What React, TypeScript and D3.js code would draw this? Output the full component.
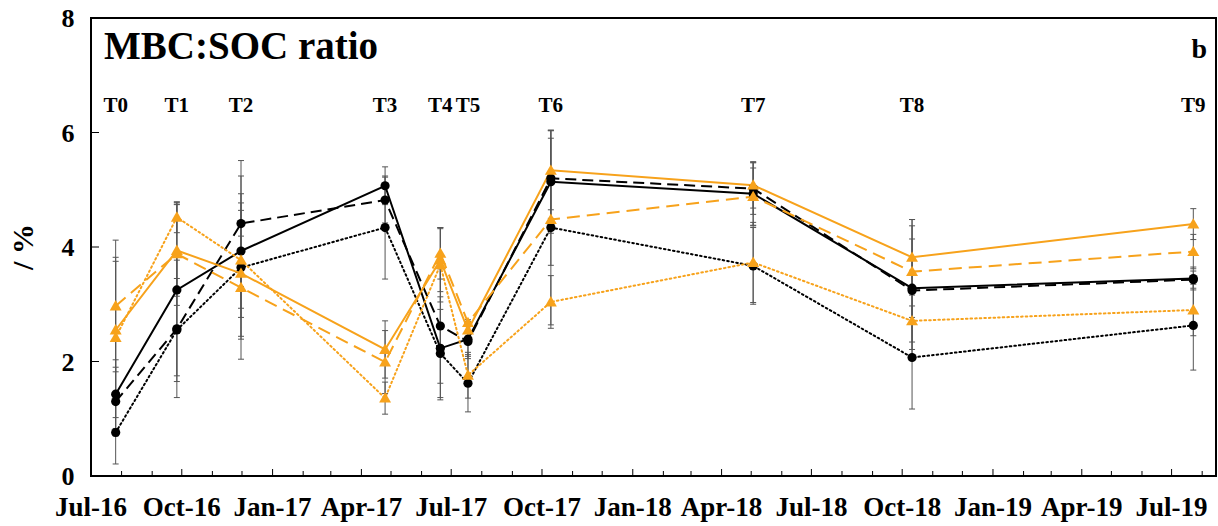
import * as d3 from 'd3';
import React, { useEffect, useRef } from 'react';

// sampling times
const timeLabels = ['T0', 'T1', 'T2', 'T3', 'T4', 'T5', 'T6', 'T7', 'T8', 'T9'];
const sampleDates = [
  '2016-07-26', '2016-09-26', '2016-11-30', '2017-04-25', '2017-06-20',
  '2017-07-18', '2017-10-10', '2018-05-03', '2018-10-11', '2019-07-23',
];

// MBC:SOC ratio (%) per treatment
const blackSolid = [1.43, 3.25, 3.93, 5.07, 2.23, 2.39, 5.14, 4.93, 3.28, 3.45];
const blackDashed = [1.30, 2.57, 4.41, 4.82, 2.62, 2.35, 5.20, 5.02, 3.24, 3.43];
const blackDotted = [0.76, 2.55, 3.64, 4.34, 2.14, 1.62, 4.34, 3.67, 2.07, 2.63];
const orangeSolid = [2.55, 3.94, 3.54, 2.21, 3.77, 2.55, 5.34, 5.08, 3.82, 4.40];
const orangeDashed = [2.97, 3.88, 3.29, 1.99, 3.89, 2.68, 4.48, 4.88, 3.57, 3.92];
const orangeDotted = [2.42, 4.52, 3.77, 1.36, 3.69, 1.76, 3.04, 3.73, 2.71, 2.90];

// standard errors
const blackSolidErr = [0.6, 1.5, 1.0, 0.33, 0.9, 0.3, 0.9, 0.56, 1.2, 0.2];
const blackDashedErr = [0.6, 1.2, 1.1, 0.4, 1.0, 0.3, 0.7, 0.45, 0.9, 0.15];
const blackDottedErr = [0.55, 0.9, 1.6, 0.9, 0.77, 0.5, 1.7, 0.67, 0.9, 0.78];
const orangeSolidErr = [1.2, 0.8, 1.1, 0.5, 0.55, 0.15, 0.69, 0.4, 0.66, 0.27];
const orangeDashedErr = [1.15, 0.9, 0.9, 0.55, 0.45, 0.05, 0.8, 0.5, 0.8, 0.3];
const orangeDottedErr = [1.4, 0.27, 1.0, 0.28, 0.65, 0.4, 0.46, 0.7, 0.5, 0.45];

const xTickLabels = ['Jul-16', 'Oct-16', 'Jan-17', 'Apr-17', 'Jul-17', 'Oct-17', 'Jan-18', 'Apr-18', 'Jul-18', 'Oct-18', 'Jan-19', 'Apr-19', 'Jul-19'];
const yTicks = [0, 2, 4, 6, 8];

const ORANGE = '#F7A21B';
const FONT = '"Liberation Serif", "Times New Roman", serif';

function App() {
  const chartRef = useRef<SVGSVGElement | null>(null);

  useEffect(() => {
    const svgWidth = 1218;
    const svgHeight = 526;
    const margin = { top: 18, right: 2, bottom: 50, left: 91 };

    const svg = d3.select(chartRef.current);
    svg.selectAll('*').remove();
    svg.attr('width', svgWidth).attr('height', svgHeight);

    const parse = (s: string) => {
      const [yy, mm, dd] = s.split('-').map(Number);
      return new Date(Date.UTC(yy, mm - 1, dd));
    };
    const dates = sampleDates.map(parse);

    const x = d3.scaleUtc()
      .domain([new Date(Date.UTC(2016, 6, 1)), new Date(Date.UTC(2019, 7, 15))])
      .range([margin.left, svgWidth - margin.right]);
    const y = d3.scaleLinear()
      .domain([0, 8])
      .range([svgHeight - margin.bottom, margin.top]);

    const x0 = x.range()[0], x1 = x.range()[1];
    const y0 = y.range()[0], y1 = y.range()[1];

    const series = [
      { vals: blackSolid, err: blackSolidErr, color: '#000', dash: null, marker: 'circle' },
      { vals: blackDashed, err: blackDashedErr, color: '#000', dash: '11,6', marker: 'circle' },
      { vals: blackDotted, err: blackDottedErr, color: '#000', dash: '1.6,3', marker: 'circle' },
      { vals: orangeSolid, err: orangeSolidErr, color: ORANGE, dash: null, marker: 'triangle' },
      { vals: orangeDashed, err: orangeDashedErr, color: ORANGE, dash: '13,7', marker: 'triangle' },
      { vals: orangeDotted, err: orangeDottedErr, color: ORANGE, dash: '1.6,3', marker: 'triangle' },
    ];

    // error bars
    const eb = svg.append('g').attr('stroke', '#555').attr('stroke-width', 1);
    series.forEach(s => {
      s.vals.forEach((v, i) => {
        const cx = x(dates[i]);
        const hi = y(v + s.err[i]);
        const lo = y(Math.max(0, v - s.err[i]));
        eb.append('line').attr('x1', cx).attr('x2', cx).attr('y1', hi).attr('y2', lo);
        eb.append('line').attr('x1', cx - 3).attr('x2', cx + 3).attr('y1', hi).attr('y2', hi);
        eb.append('line').attr('x1', cx - 3).attr('x2', cx + 3).attr('y1', lo).attr('y2', lo);
      });
    });

    // lines
    const line = d3.line<number>()
      .x((d, i) => x(dates[i]))
      .y(d => y(d));
    series.forEach(s => {
      svg.append('path')
        .datum(s.vals)
        .attr('d', line)
        .attr('fill', 'none')
        .attr('stroke', s.color)
        .attr('stroke-width', 2)
        .attr('stroke-linecap', s.dash && s.dash.startsWith('1.6') ? 'round' : 'butt')
        .attr('stroke-dasharray', s.dash);
    });

    // markers
    const tri = d3.symbol().type(d3.symbolTriangle).size(62);
    series.forEach(s => {
      const g = svg.append('g');
      s.vals.forEach((v, i) => {
        if (s.marker === 'circle') {
          g.append('circle').attr('cx', x(dates[i])).attr('cy', y(v)).attr('r', 4.6).attr('fill', '#000');
        } else {
          g.append('path').attr('d', tri()).attr('transform', `translate(${x(dates[i])},${y(v) + 1})`).attr('fill', ORANGE);
        }
      });
    });

    // frame
    svg.append('rect')
      .attr('x', x0).attr('y', y1)
      .attr('width', x1 - x0).attr('height', y0 - y1)
      .attr('fill', 'none').attr('stroke', '#000').attr('stroke-width', 2);

    // x ticks (monthly minor, quarterly major)
    const months = d3.utcMonth.range(d3.utcMonth.offset(x.domain()[0], 1), x.domain()[1]);
    svg.append('g').selectAll('line')
      .data(months)
      .enter().append('line')
      .attr('x1', d => x(d)).attr('x2', d => x(d))
      .attr('y1', y0).attr('y2', d => y0 - (d.getUTCMonth() % 3 === 0 ? 7 : 5))
      .attr('stroke', '#000').attr('stroke-width', 1);

    const quarters = d3.utcMonth.every(3)!.range(x.domain()[0], x.domain()[1]);
    svg.append('g').selectAll('text')
      .data(quarters)
      .enter().append('text')
      .attr('x', d => x(d))
      .attr('y', 516)
      .attr('text-anchor', 'middle')
      .style('font-family', FONT).style('font-weight', 'bold').style('font-size', '27px')
      .text((d, i) => xTickLabels[i]);

    // y ticks
    svg.append('g').selectAll('line')
      .data(yTicks.slice(1, -1))
      .enter().append('line')
      .attr('x1', x0).attr('x2', x0 + 8)
      .attr('y1', d => y(d)).attr('y2', d => y(d))
      .attr('stroke', '#000').attr('stroke-width', 1);
    svg.append('g').selectAll('text')
      .data(yTicks)
      .enter().append('text')
      .attr('x', 68)
      .attr('y', d => y(d) + 9)
      .attr('text-anchor', 'middle')
      .style('font-family', FONT).style('font-weight', 'bold').style('font-size', '26px')
      .text(d => d);

    // y axis label
    svg.append('text')
      .attr('transform', `translate(33,${y(4)}) rotate(-90)`)
      .attr('text-anchor', 'middle')
      .style('font-family', FONT).style('font-weight', 'bold').style('font-size', '30px')
      .text('/ %');

    // sampling labels
    svg.append('g').selectAll('text')
      .data(timeLabels)
      .enter().append('text')
      .attr('x', (d, i) => x(dates[i]))
      .attr('y', 112)
      .attr('text-anchor', 'middle')
      .style('font-family', FONT).style('font-weight', 'bold').style('font-size', '21px')
      .text(d => d);

    // title and panel letter
    svg.append('text')
      .attr('x', 104).attr('y', 59)
      .style('font-family', FONT).style('font-weight', 'bold').style('font-size', '39px')
      .text('MBC:SOC ratio');
    svg.append('text')
      .attr('x', 1207).attr('y', 58)
      .attr('text-anchor', 'end')
      .style('font-family', FONT).style('font-weight', 'bold').style('font-size', '28px')
      .text('b');
  }, []);

  return (
    <div style={{ position: 'absolute', left: 0, top: 0, background: '#fff' }}>
      <svg ref={chartRef} />
    </div>
  );
}

export default App;
